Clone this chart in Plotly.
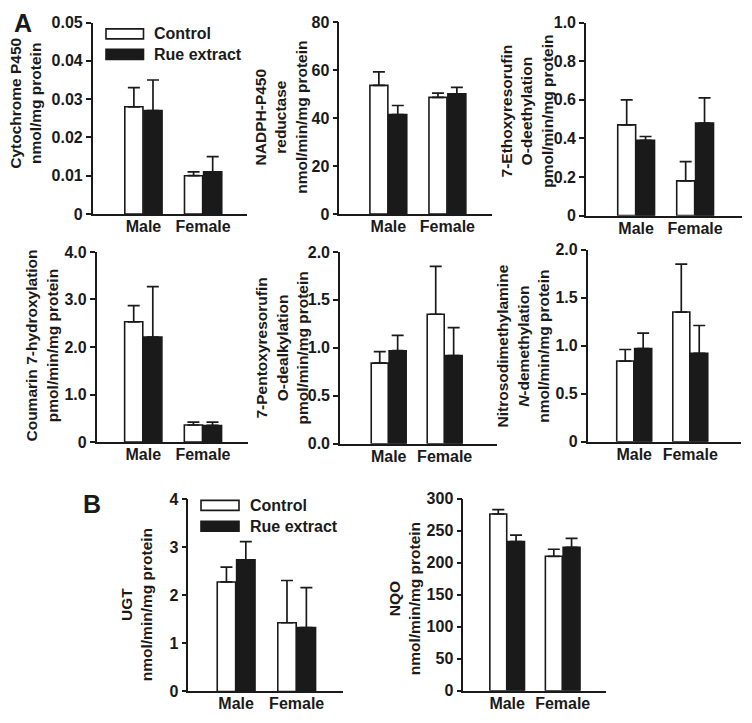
import plotly.graph_objects as go

# The page body has an 8px default margin; keep the figure inside the window
OFF = 8
W, H = 752 - 2 * OFF, 723 - 2 * OFF
# vertical correction measured between the render and the reference
YC, YS = 361.5, 1.0235

# ---------------- data ----------------
categories = ["Male", "Female"]
series_names = ["Control", "Rue extract"]

cyp_ctrl = [0.028, 0.010]
cyp_ctrl_err = [0.005, 0.001]
cyp_rue = [0.027, 0.011]
cyp_rue_err = [0.008, 0.004]
cyp_ticks = [0, 0.01, 0.02, 0.03, 0.04, 0.05]
cyp_ticktext = ["0", "0.01", "0.02", "0.03", "0.04", "0.05"]

red_ctrl = [53.7, 48.7]
red_ctrl_err = [5.6, 1.8]
red_rue = [41.5, 50.2]
red_rue_err = [3.8, 2.7]
red_ticks = [0, 20, 40, 60, 80]
red_ticktext = ["0", "20", "40", "60", "80"]

erod_ctrl = [0.47, 0.18]
erod_ctrl_err = [0.13, 0.10]
erod_rue = [0.39, 0.48]
erod_rue_err = [0.02, 0.13]
erod_ticks = [0, 0.2, 0.4, 0.6, 0.8, 1.0]
erod_ticktext = ["0", "0.2", "0.4", "0.6", "0.8", "1.0"]

coh_ctrl = [2.53, 0.36]
coh_ctrl_err = [0.34, 0.06]
coh_rue = [2.21, 0.35]
coh_rue_err = [1.06, 0.07]
coh_ticks = [0, 1, 2, 3, 4]
coh_ticktext = ["0", "1.0", "2.0", "3.0", "4.0"]

prod_ctrl = [0.84, 1.35]
prod_ctrl_err = [0.12, 0.50]
prod_rue = [0.97, 0.92]
prod_rue_err = [0.16, 0.29]
prod_ticks = [0, 0.5, 1.0, 1.5, 2.0]
prod_ticktext = ["0.0", "0.5", "1.0", "1.5", "2.0"]

ndma_ctrl = [0.84, 1.35]
ndma_ctrl_err = [0.12, 0.50]
ndma_rue = [0.97, 0.92]
ndma_rue_err = [0.16, 0.29]
ndma_ticks = [0, 0.5, 1.0, 1.5, 2.0]
ndma_ticktext = ["0", "0.5", "1.0", "1.5", "2.0"]

ugt_ctrl = [2.28, 1.43]
ugt_ctrl_err = [0.31, 0.88]
ugt_rue = [2.74, 1.33]
ugt_rue_err = [0.38, 0.83]
ugt_ticks = [0, 1, 2, 3, 4]
ugt_ticktext = ["0", "1", "2", "3", "4"]

nqo_ctrl = [276, 210]
nqo_ctrl_err = [7, 11]
nqo_rue = [233, 224]
nqo_rue_err = [10, 14]
nqo_ticks = [0, 50, 100, 150, 200, 250, 300]
nqo_ticktext = ["0", "50", "100", "150", "200", "250", "300"]

# ---------------- layout helpers ----------------
FONT = "Liberation Sans"
INK = "#1a1a1a"


def fx(p):
    return (p - OFF) / W


def fy(p):
    q = YC + (p - YC) * YS
    return 1 - (q - OFF) / H


panels = [
    dict(c=cyp_ctrl, ce=cyp_ctrl_err, r=cyp_rue, re=cyp_rue_err, tv=cyp_ticks, tt=cyp_ticktext,
         box=(92.7, 246.7, 22.7, 214.3), xr=(-0.85, 1.73)),
    dict(c=red_ctrl, ce=red_ctrl_err, r=red_rue, re=red_rue_err, tv=red_ticks, tt=red_ticktext,
         box=(339.3, 492.3, 22.5, 214.3), xr=(-0.83, 1.76)),
    dict(c=erod_ctrl, ce=erod_ctrl_err, r=erod_rue, re=erod_rue_err, tv=erod_ticks, tt=erod_ticktext,
         box=(586.0, 741.7, 22.7, 216.0), xr=(-0.85, 1.79)),
    dict(c=coh_ctrl, ce=coh_ctrl_err, r=coh_rue, re=coh_rue_err, tv=coh_ticks, tt=coh_ticktext,
         box=(96.7, 248.3, 252.3, 442.7), xr=(-0.78, 1.76)),
    dict(c=prod_ctrl, ce=prod_ctrl_err, r=prod_rue, re=prod_rue_err, tv=prod_ticks, tt=prod_ticktext,
         box=(340.0, 497.3, 252.3, 444.3), xr=(-0.87, 1.94)),
    dict(c=ndma_ctrl, ce=ndma_ctrl_err, r=ndma_rue, re=ndma_rue_err, tv=ndma_ticks, tt=ndma_ticktext,
         box=(587.7, 740.7, 250.0, 442.3), xr=(-0.83, 1.9)),
    dict(c=ugt_ctrl, ce=ugt_ctrl_err, r=ugt_rue, re=ugt_rue_err, tv=ugt_ticks, tt=ugt_ticktext,
         box=(188.3, 343.3, 500.0, 692.3), xr=(-0.79, 1.77)),
    dict(c=nqo_ctrl, ce=nqo_ctrl_err, r=nqo_rue, re=nqo_rue_err, tv=nqo_ticks, tt=nqo_ticktext,
         box=(463.3, 606.0, 499.3, 691.7), xr=(-0.79, 1.78)),
]

fig = go.Figure()
layout = dict(
    width=W, height=H,
    margin=dict(l=0, r=0, t=0, b=0),
    paper_bgcolor="white", plot_bgcolor="white",
    font=dict(family=FONT, size=16, color=INK, weight="bold"),
    barmode="group", bargap=0.36, bargroupgap=0.05,
    showlegend=False,
)

tick_font = dict(family=FONT, size=16, color=INK, weight="bold")
for i, p in enumerate(panels):
    n = "" if i == 0 else str(i + 1)
    xa, ya = "x" + n, "y" + n
    err_style = dict(type="data", symmetric=False, thickness=1.7, width=6, color=INK)
    fig.add_trace(go.Bar(
        x=categories, y=p["c"], name=series_names[0], xaxis=xa, yaxis=ya,
        marker=dict(color="white", line=dict(color=INK, width=1.6)),
        error_y=dict(array=p["ce"], arrayminus=[0] * len(p["ce"]), **err_style),
    ))
    fig.add_trace(go.Bar(
        x=categories, y=p["r"], name=series_names[1], xaxis=xa, yaxis=ya,
        marker=dict(color=INK, line=dict(color=INK, width=1.6)),
        error_y=dict(array=p["re"], arrayminus=[0] * len(p["re"]), **err_style),
    ))
    x0, x1, yt, yb = p["box"]
    layout["xaxis" + n] = dict(
        domain=[fx(x0), fx(x1)], anchor=ya, type="category",
        categoryorder="array", categoryarray=categories,
        range=list(p["xr"]), showline=True, linecolor=INK, linewidth=1.6,
        ticks="", ticklabelstandoff=-3, showgrid=False, zeroline=False, fixedrange=True,
        tickfont=tick_font,
    )
    layout["yaxis" + n] = dict(
        domain=[fy(yb), fy(yt)], anchor=xa,
        range=[0, p["tv"][-1]], tickvals=p["tv"], ticktext=p["tt"],
        showline=True, linecolor=INK, linewidth=1.6,
        ticks="outside", ticklen=5, tickwidth=1.6, tickcolor=INK,
        showgrid=False, zeroline=False, fixedrange=True,
        tickfont=tick_font,
    )

# ---------------- axis titles (as rotated text) ----------------
title_font = dict(family=FONT, size=15.5, color=INK, weight="bold")
titles = [
    ("Cytochrome P450<br>nmol/mg protein", 26, 104),
    ("NADPH-P450<br>reductase<br>nmol/min/mg protein", 281, 118),
    ("7-Ethoxyresorufin<br>O-deethylation<br>pmol/min/mg protein", 527, 112),
    ("Coumarin 7-hydroxylation<br>pmol/min/mg protein", 42, 346),
    ("7-Pentoxyresorufin<br>O-dealkylation<br>pmol/min/mg protein", 282, 349),
    ("Nitrosodimethylamine<br><i>N</i>-demethylation<br>nmol/min/mg protein", 523, 347),
    ("UGT<br>nmol/min/mg protein", 136, 606),
    ("NQO<br>nmol/min/mg protein", 404, 599),
]
annotations = []
for text, x, y in titles:
    annotations.append(dict(
        text=text, x=fx(x), y=fy(y), xref="paper", yref="paper",
        xanchor="center", yanchor="middle", textangle=-90, showarrow=False,
        align="center", font=title_font,
    ))

# panel letters
for letter, x, y in [("A", 23, 23), ("B", 92, 505)]:
    annotations.append(dict(
        text=letter, x=fx(x), y=fy(y), xref="paper", yref="paper",
        xanchor="center", yanchor="middle", showarrow=False,
        font=dict(family=FONT, size=25, color=INK, weight="bold"),
    ))

# legends (patches + labels)
shapes = []
legend_spots = [(106, 143.5, 29, 39, 49.5, 59.5, 152), (201, 239, 501, 511, 522, 532, 248)]
for lx0, lx1, a0, a1, b0, b1, tx in legend_spots:
    shapes.append(dict(type="rect", xref="paper", yref="paper",
                       x0=fx(lx0), x1=fx(lx1), y0=fy(a1), y1=fy(a0),
                       fillcolor="white", line=dict(color=INK, width=1.6)))
    shapes.append(dict(type="rect", xref="paper", yref="paper",
                       x0=fx(lx0), x1=fx(lx1), y0=fy(b1), y1=fy(b0),
                       fillcolor=INK, line=dict(color=INK, width=1.6)))
    for name, yc in zip(series_names, [(a0 + a1) / 2, (b0 + b1) / 2]):
        annotations.append(dict(
            text=name, x=fx(tx), y=fy(yc), xref="paper", yref="paper",
            xanchor="left", yanchor="middle", showarrow=False,
            font=dict(family=FONT, size=16, color=INK, weight="bold"),
        ))

layout["annotations"] = annotations
layout["shapes"] = shapes
fig.update_layout(**layout)

fig.write_html("out.html", config={"displayModeBar": False})
